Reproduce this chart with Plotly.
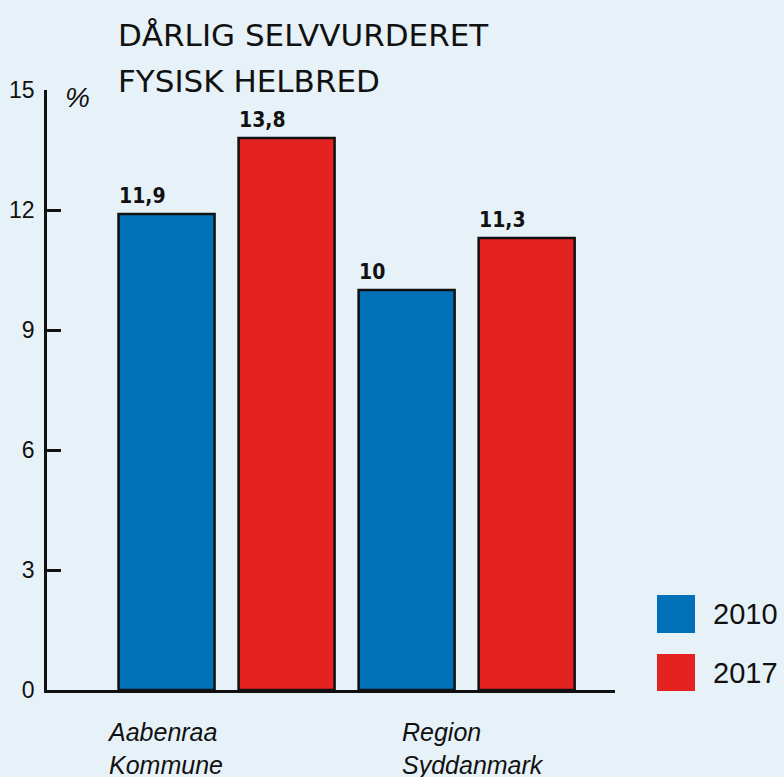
import plotly.graph_objects as go

categories = ["Aabenraa Kommune", "Region Syddanmark"]
category_labels = ["Aabenraa<br>Kommune", "Region<br>Syddanmark"]
series_names = ["2010", "2017"]
values_2010 = [11.9, 10.0]
values_2017 = [13.8, 11.3]
value_text_2010 = ["11,9", "10"]
value_text_2017 = ["13,8", "11,3"]
y_ticks = [0, 3, 6, 9, 12, 15]
title_lines = ["DÅRLIG SELVVURDERET", "FYSISK HELBRED"]

BG = "#e7f1f8"
BLUE = "#0070b8"
RED = "#e42320"
GROUPGAP = 0.2

W, H = 784, 777
ML, MR, MT, MB = 47, 169, 90, 87
PW = W - ML - MR
PH = H - MT - MB

def px_x(p):
    return (p - ML) / PW

def px_y(p):
    return (H - MB - p) / PH

x_idx = list(range(len(categories)))

fig = go.Figure()
for name, vals, col in [(series_names[0], values_2010, BLUE), (series_names[1], values_2017, RED)]:
    fig.add_trace(go.Bar(
        x=x_idx, y=vals, name=name,
        marker=dict(color=col, line=dict(color="#111111", width=2.5)),
        showlegend=False, hoverinfo="skip",
    ))

annotations = []
half_gap = GROUPGAP * 0.5 / 2
for k, (vals, texts) in enumerate([(values_2010, value_text_2010), (values_2017, value_text_2017)]):
    for i, (v, t) in enumerate(zip(vals, texts)):
        left = i - 0.5 + k * 0.5 + half_gap
        annotations.append(dict(
            x=left, y=v, xref="x", yref="y", text=t, showarrow=False,
            xanchor="left", yanchor="bottom", yshift=4, xshift=-2,
            font=dict(family="Liberation Sans Narrow, DejaVu Sans Condensed, Roboto Condensed, Roboto",
                      size=21, color="#111111", weight=600),
        ))

for lbl, px in zip(category_labels, [105, 400]):
    annotations.append(dict(
        x=px_x(px), y=px_y(716), xref="paper", yref="paper", text="<i>" + lbl + "</i>",
        showarrow=False, xanchor="left", yanchor="top", align="left",
        font=dict(family="Liberation Sans", size=25, color="#111111"),
    ))

for line, py in zip(title_lines, [35, 81]):
    annotations.append(dict(
        x=px_x(116), y=px_y(py), xref="paper", yref="paper", text=line,
        showarrow=False, xanchor="left", yanchor="middle",
        font=dict(family="DejaVu Sans", size=31, color="#111111"),
    ))

annotations.append(dict(
    x=px_x(63), y=px_y(97), xref="paper", yref="paper", text="<i>%</i>",
    showarrow=False, xanchor="left", yanchor="middle",
    font=dict(family="Liberation Sans", size=28, color="#111111"),
))

shapes = []
for name, col, (top, bot) in zip(series_names, [BLUE, RED], [(595, 633), (654, 691)]):
    shapes.append(dict(type="rect", xref="paper", yref="paper",
                       x0=px_x(657), x1=px_x(695), y0=px_y(bot), y1=px_y(top),
                       fillcolor=col, line=dict(width=0)))
    annotations.append(dict(
        x=px_x(711), y=px_y((top + bot) / 2), xref="paper", yref="paper", text=name,
        showarrow=False, xanchor="left", yanchor="middle",
        font=dict(family="Liberation Sans", size=29, color="#111111"),
    ))

fig.update_layout(
    width=W, height=H,
    margin=dict(l=ML, r=MR, t=MT, b=MB, autoexpand=False),
    paper_bgcolor=BG, plot_bgcolor=BG,
    barmode="group", bargap=0.0, bargroupgap=GROUPGAP,
    annotations=annotations, shapes=shapes,
    xaxis=dict(
        range=[-0.748, 1.618], showticklabels=False, ticks="", automargin=False,
        showgrid=False, zeroline=False, showline=True, linecolor="#111111", linewidth=2.5,
        fixedrange=True,
    ),
    yaxis=dict(
        range=[0, 15], tickvals=y_ticks, ticktext=[str(t) for t in y_ticks],
        ticks="inside", ticklen=14, tickwidth=2.5, tickcolor="#111111", automargin=False,
        showgrid=False, zeroline=False, showline=True, linecolor="#111111", linewidth=2.5,
        tickfont=dict(family="Liberation Sans", size=23, color="#111111"),
        ticklabelstandoff=5,
        fixedrange=True,
    ),
)

fig.write_html("out.html", config={"displayModeBar": False},
               post_script="document.body.style.margin='0';document.body.style.background='%s';" % BG)
